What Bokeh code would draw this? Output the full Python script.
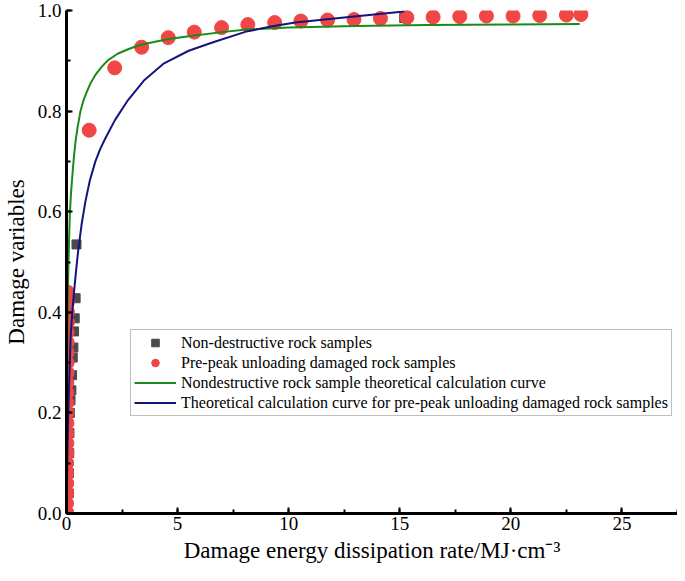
from bokeh.plotting import figure
from bokeh.models import (Range1d, SingleIntervalTicker, NumeralTickFormatter,
                          Legend, LegendItem)
from bokeh.embed import file_html
from bokeh.resources import INLINE

# ---- data ----
nd_x = [0.09, 0.10, 0.11, 0.12, 0.13, 0.15, 0.18, 0.22, 0.25, 0.28, 0.31,
        0.34, 0.37, 0.41, 0.45, 15.2]
nd_y = [0.0, 0.04, 0.08, 0.12, 0.16, 0.20, 0.225, 0.245, 0.275, 0.31, 0.33,
        0.362, 0.388, 0.428, 0.535, 0.985]

pp_x = [0.0, 0.0, 0.01, 0.01, 0.01, 0.01, 0.02, 0.02, 0.02, 0.02, 0.02, 0.02,
        0.02, 0.02, 0.03, 0.03, 0.03, 0.03, 0.03, 0.04, 0.04, 0.04, 0.05,
        1.02, 2.17, 3.38, 4.58, 5.75, 6.98, 8.16, 9.37, 10.55, 11.75, 12.94,
        14.13, 15.32, 16.5, 17.7, 18.9, 20.1, 21.3, 22.5, 23.15]
pp_y = [0.0, 0.02, 0.04, 0.06, 0.08, 0.10, 0.12, 0.14, 0.16, 0.18, 0.20,
        0.22, 0.24, 0.26, 0.28, 0.30, 0.32, 0.34, 0.36, 0.38, 0.40, 0.42, 0.44,
        0.762, 0.886, 0.927, 0.946, 0.957, 0.966, 0.972, 0.976, 0.979, 0.981,
        0.982, 0.984, 0.986, 0.987, 0.988, 0.989, 0.989, 0.990, 0.991, 0.992]

green_x = [0.0, 0.02, 0.04, 0.06, 0.09, 0.12, 0.15, 0.2, 0.27, 0.34, 0.41,
           0.5, 0.63, 0.77, 0.93, 1.1, 1.30, 1.6, 1.89, 2.3, 2.77, 3.2, 3.66,
           4.54, 5.5, 7.0, 8.1, 10.0, 13.0, 16.2, 20.0, 23.1]
green_y = [0.0, 0.20, 0.35, 0.43, 0.50, 0.55, 0.595, 0.635, 0.675, 0.712,
           0.741, 0.768, 0.80, 0.822, 0.84, 0.857, 0.872, 0.889, 0.902, 0.914,
           0.923, 0.930, 0.935, 0.943, 0.949, 0.957, 0.962, 0.966, 0.969,
           0.971, 0.972, 0.973]

blue_x = [0.0, 0.04, 0.08, 0.12, 0.19, 0.26, 0.34, 0.43, 0.52, 0.68, 0.85,
          1.05, 1.30, 1.52, 1.74, 2.18, 2.77, 3.51, 4.39, 5.5, 6.6, 8.08,
          9.2, 10.3, 12.5, 15.2]
blue_y = [0.0, 0.12, 0.20, 0.26, 0.355, 0.40, 0.441, 0.482, 0.52, 0.575,
          0.62, 0.662, 0.70, 0.725, 0.745, 0.782, 0.822, 0.862, 0.895, 0.92,
          0.937, 0.958, 0.968, 0.976, 0.986, 0.998]

labels = ["Non-destructive rock samples",
          "Pre-peak unloading damaged rock samples",
          "Nondestructive rock sample theoretical calculation curve",
          "Theoretical calculation curve for pre-peak unloading damaged rock samples"]

FONT = "'Liberation Serif', 'Times New Roman', serif"

p = figure(width=677, height=573, output_backend="svg", toolbar_location=None,
           x_range=Range1d(0, 27.5), y_range=Range1d(0, 1.0),
           min_border_left=56, min_border_right=0, min_border_top=10,
           min_border_bottom=60)
p.outline_line_color = None
p.xgrid.visible = False
p.ygrid.visible = False
p.background_fill_color = "white"

r_sq = p.scatter(nd_x, nd_y, marker="square", size=9, color="#4a4a4a")
r_ci = p.scatter(pp_x, pp_y, marker="circle", size=14, color="#f04646")
r_g = p.line(green_x, green_y, line_color="#1a8a1a", line_width=2)
r_b = p.line(blue_x, blue_y, line_color="#14147f", line_width=2)

for ax in (p.xaxis[0], p.yaxis[0]):
    ax.axis_line_width = 3
    ax.axis_line_color = "black"
    ax.major_tick_in = 6
    ax.major_tick_out = 0
    ax.minor_tick_in = 4
    ax.minor_tick_out = 0
    ax.major_tick_line_width = 2
    ax.minor_tick_line_width = 2
    ax.major_label_text_font = FONT
    ax.major_label_text_font_size = "19px"
    ax.major_label_text_color = "black"
    ax.axis_label_text_font = FONT
    ax.axis_label_text_font_size = "23px"
    ax.axis_label_text_font_style = "normal"
    ax.axis_label_text_color = "black"

p.xaxis.ticker = SingleIntervalTicker(interval=5, num_minor_ticks=2)
p.yaxis.ticker = SingleIntervalTicker(interval=0.2, num_minor_ticks=2)
p.yaxis.formatter = NumeralTickFormatter(format="0.0")
p.xaxis.axis_label = "Damage energy dissipation rate/MJ\u00b7cm\u207b\u00b3"
p.yaxis.axis_label = "Damage variables"
p.xaxis.major_label_standoff = 3
p.xaxis.axis_label_standoff = 5
p.yaxis.major_label_standoff = 5
p.yaxis.axis_label_standoff = 6

legend = Legend(items=[LegendItem(label=labels[0], renderers=[r_sq]),
                       LegendItem(label=labels[1], renderers=[r_ci]),
                       LegendItem(label=labels[2], renderers=[r_g]),
                       LegendItem(label=labels[3], renderers=[r_b])],
                location=(64, 97))
legend.label_text_font = FONT
legend.label_text_font_size = "16px"
legend.label_text_color = "black"
legend.glyph_width = 42
legend.glyph_height = 19
legend.label_height = 19
legend.label_standoff = 5
legend.spacing = 1
legend.padding = 3
legend.margin = 0
legend.border_line_color = "#808080"
legend.border_line_width = 1
legend.background_fill_color = "white"
legend.background_fill_alpha = 1
p.add_layout(legend)

open("out.html", "w").write(file_html(p, INLINE))
